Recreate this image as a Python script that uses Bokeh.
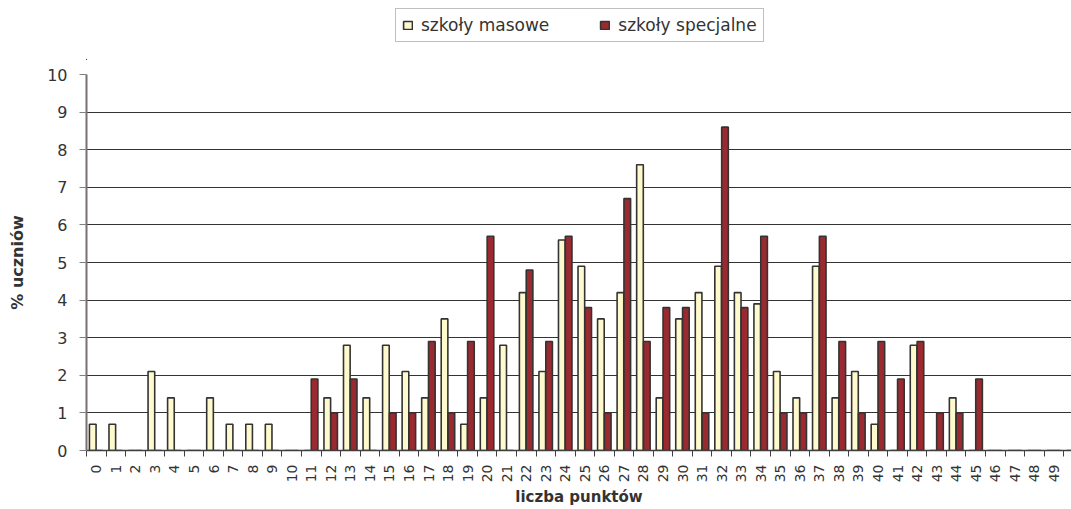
from bokeh.plotting import figure
from bokeh.layouts import column
from bokeh.models import (ColumnDataSource, Range1d, FixedTicker, Legend, LegendItem)
from bokeh.transform import dodge
from bokeh.embed import file_html
from bokeh.resources import INLINE

punkty = list(range(51))
tick_labels = [str(p) for p in punkty]
masowe = [0.7, 0.7, 0, 2.1, 1.4, 0, 1.4, 0.7, 0.7, 0.7,
          0, 0, 1.4, 2.8, 1.4, 2.8, 2.1, 1.4, 3.5, 0.7,
          1.4, 2.8, 4.2, 2.1, 5.6, 4.9, 3.5, 4.2, 7.6, 1.4,
          3.5, 4.2, 4.9, 4.2, 3.9, 2.1, 1.4, 4.9, 1.4, 2.1,
          0.7, 0, 2.8, 0, 1.4, 0, 0, 0, 0, 0, 0]
specjalne = [0, 0, 0, 0, 0, 0, 0, 0, 0, 0,
             0, 1.9, 1.0, 1.9, 0, 1.0, 1.0, 2.9, 1.0, 2.9,
             5.7, 0, 4.8, 2.9, 5.7, 3.8, 1.0, 6.7, 2.9, 3.8,
             3.8, 1.0, 8.6, 3.8, 5.7, 1.0, 1.0, 5.7, 2.9, 1.0,
             2.9, 1.9, 2.9, 1.0, 1.0, 1.9, 0, 0, 0, 0, 0]
series_names = ["szkoły masowe", "szkoły specjalne"]
y_ticks = list(range(0, 11))

FILL_M = "#FFFACD"
FILL_S = "#9B2A30"
EDGE = "#333333"

src = ColumnDataSource(dict(x=punkty, m=masowe, s=specjalne))

FONT = "DejaVu Sans"
p = figure(width=1071, height=449, output_backend="svg", toolbar_location=None,
           x_range=Range1d(-0.5, 49.9), y_range=Range1d(0, 10),
           min_border_left=86, min_border_right=0, min_border_top=14, min_border_bottom=59)
p.outline_line_color = None
p.background_fill_color = "white"

r1 = p.vbar(x=dodge('x', -0.18, range=p.x_range), top='m', width=0.34, source=src,
            fill_color=FILL_M, line_color=EDGE, line_width=1.6)
r2 = p.vbar(x=dodge('x', 0.17, range=p.x_range), top='s', width=0.34, source=src,
            fill_color=FILL_S, line_color=EDGE, line_width=1.6)

# x axis
xa = p.xaxis[0]
xa.ticker = FixedTicker(ticks=punkty, minor_ticks=[v - 0.5 for v in punkty] + [punkty[-1] + 0.5])
xa.major_label_overrides = {v: t for v, t in zip(punkty, tick_labels)}
xa.major_tick_out = 0
xa.major_tick_in = 0
xa.minor_tick_out = 6
xa.minor_tick_in = 0
xa.minor_tick_line_color = "#404040"
xa.axis_line_color = "#404040"
xa.axis_line_width = 1.5
xa.major_label_orientation = 1.5708
xa.major_label_text_font = FONT
xa.major_label_text_font_size = "14px"
xa.major_label_text_color = "#333333"
xa.major_label_standoff = 8
xa.axis_label = "liczba punktów"
xa.axis_label_text_font = FONT
xa.axis_label_text_font_size = "15px"
xa.axis_label_text_font_style = "bold"
xa.axis_label_text_color = "#333333"
xa.axis_label_standoff = 3

# y axis
ya = p.yaxis[0]
ya.ticker = FixedTicker(ticks=y_ticks, minor_ticks=[])
ya.major_tick_out = 7
ya.major_tick_in = 0
ya.major_tick_line_color = "#808080"
ya.axis_line_color = "#7a7070"
ya.axis_line_width = 2
ya.major_label_text_font = FONT
ya.major_label_text_font_size = "16px"
ya.major_label_text_color = "#333333"
ya.major_label_standoff = 12
ya.axis_label = "% uczniów"
ya.axis_label_text_font = FONT
ya.axis_label_text_font_size = "16px"
ya.axis_label_text_font_style = "bold"
ya.axis_label_text_color = "#333333"
ya.axis_label_standoff = 17

p.xgrid.grid_line_color = None
p.ygrid.grid_line_color = "#333333"
p.ygrid.grid_line_width = 1

# legend strip above the chart (its bars lie outside its own ranges, only the legend shows)
lg = figure(width=1071, height=60, output_backend="svg", toolbar_location=None,
            x_range=Range1d(1000, 1001), y_range=Range1d(1000, 1001),
            min_border_left=0, min_border_right=0, min_border_top=0, min_border_bottom=0)
lg.axis.visible = False
lg.grid.visible = False
lg.outline_line_color = None
l1 = lg.vbar(x='x', top='m', width=0.34, source=src, fill_color=FILL_M, line_color=EDGE, line_width=1.6)
l2 = lg.vbar(x='x', top='s', width=0.34, source=src, fill_color=FILL_S, line_color=EDGE, line_width=1.6)
legend = Legend(items=[LegendItem(label=series_names[0], renderers=[l1]),
                       LegendItem(label=series_names[1], renderers=[l2])],
                orientation="horizontal", location=(309, 18),
                label_text_font=FONT, label_text_font_size="17px",
                label_text_color="#333333", label_standoff=8,
                glyph_width=11, glyph_height=10, spacing=50, padding=6, margin=0,
                label_height=16, border_line_color="#808080", border_line_width=1,
                background_fill_alpha=1)
lg.add_layout(legend, "center")

open("out.html", "w").write(file_html(column(lg, p, spacing=0), INLINE))
